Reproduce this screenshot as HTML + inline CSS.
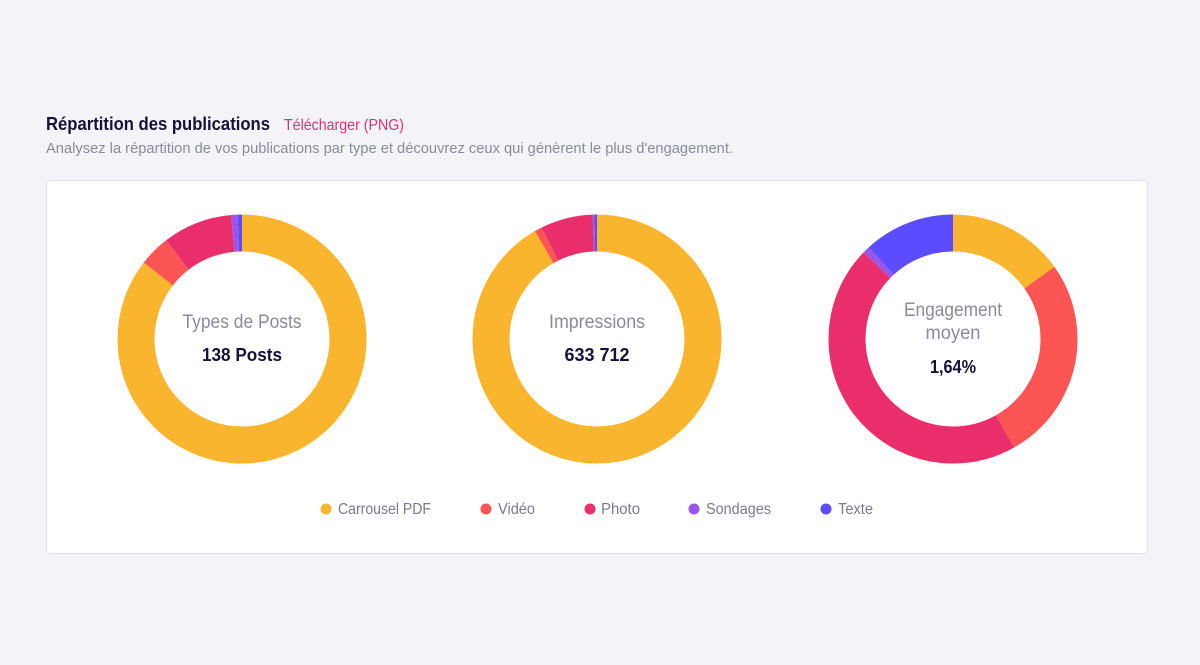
<!DOCTYPE html>
<html><head><meta charset="utf-8"><style>
html,body{margin:0;padding:0;background:#f4f4f8;}
svg{display:block;font-family:"Liberation Sans",sans-serif;}
</style></head><body>
<svg width="1200" height="665" viewBox="0 0 1200 665" xmlns="http://www.w3.org/2000/svg">
<rect width="1200" height="665" fill="#f4f4f8"/>
<text x="46" y="130" font-size="18" font-weight="bold" fill="#14123a" textLength="224" lengthAdjust="spacingAndGlyphs">Répartition des publications</text>
<text x="284" y="130" font-size="16" fill="#e0306e" textLength="120" lengthAdjust="spacingAndGlyphs">Télécharger (PNG)</text>
<text x="46" y="153" font-size="15" fill="#8a8a9c" textLength="687" lengthAdjust="spacingAndGlyphs">Analysez la répartition de vos publications par type et découvrez ceux qui génèrent le plus d'engagement.</text>
<rect x="46.5" y="180.5" width="1101" height="373" rx="4" fill="#fff" stroke="#e2e2ea"/>
<g fill="none" stroke-width="37">
 <!-- chart 1 -->
 <g transform="translate(242,339) rotate(-90)">
  <circle r="106" stroke="#fab52f" stroke-dasharray="569.3 1000" stroke-dashoffset="0"/>
  <circle r="106" stroke="#fc5553" stroke-dasharray="27.0 1000" stroke-dashoffset="-569.3"/>
  <circle r="106" stroke="#e92e6b" stroke-dasharray="60.2 1000" stroke-dashoffset="-596.3"/>
  <circle r="106" stroke="#9a56e8" stroke-dasharray="5.5 1000" stroke-dashoffset="-656.5"/>
  <circle r="106" stroke="#5b4cff" stroke-dasharray="4.5 1000" stroke-dashoffset="-662"/>
 </g>
 <!-- chart 2 -->
 <g transform="translate(597,339) rotate(-90)">
  <circle r="106" stroke="#fab52f" stroke-dasharray="610.5 1000" stroke-dashoffset="0"/>
  <circle r="106" stroke="#fc5553" stroke-dasharray="6.5 1000" stroke-dashoffset="-610.5"/>
  <circle r="106" stroke="#e92e6b" stroke-dasharray="45 1000" stroke-dashoffset="-617"/>
  <circle r="106" stroke="#9a56e8" stroke-dasharray="1.5 1000" stroke-dashoffset="-662"/>
  <circle r="106" stroke="#5b4cff" stroke-dasharray="2.5 1000" stroke-dashoffset="-663.5"/>
 </g>
 <!-- chart 3 -->
 <g transform="translate(953,339) rotate(-90)">
  <circle r="106" stroke="#fab52f" stroke-dasharray="101 1000" stroke-dashoffset="0"/>
  <circle r="106" stroke="#fc5553" stroke-dasharray="177.5 1000" stroke-dashoffset="-101"/>
  <circle r="106" stroke="#e92e6b" stroke-dasharray="302.5 1000" stroke-dashoffset="-278.5"/>
  <circle r="106" stroke="#9a56e8" stroke-dasharray="6 1000" stroke-dashoffset="-581"/>
  <circle r="106" stroke="#5b4cff" stroke-dasharray="79 1000" stroke-dashoffset="-587"/>
 </g>
</g>
<g fill="#8a8a9c" font-size="19" text-anchor="middle">
 <text x="242" y="328" textLength="119" lengthAdjust="spacingAndGlyphs">Types de Posts</text>
 <text x="597" y="328" textLength="96" lengthAdjust="spacingAndGlyphs">Impressions</text>
 <text x="953" y="316" textLength="98" lengthAdjust="spacingAndGlyphs">Engagement</text>
 <text x="953" y="339" textLength="55" lengthAdjust="spacingAndGlyphs">moyen</text>
</g>
<g fill="#14123a" font-size="18" font-weight="bold" text-anchor="middle">
 <text x="242" y="361" textLength="80" lengthAdjust="spacingAndGlyphs">138 Posts</text>
 <text x="597" y="361" textLength="65" lengthAdjust="spacingAndGlyphs">633 712</text>
 <text x="953" y="373" textLength="46" lengthAdjust="spacingAndGlyphs">1,64%</text>
</g>
<g font-size="16" fill="#7a7a8c">
 <circle cx="326" cy="509" r="5.5" fill="#fab52f"/><text x="338" y="514" textLength="93" lengthAdjust="spacingAndGlyphs">Carrousel PDF</text>
 <circle cx="486" cy="509" r="5.5" fill="#fc5553"/><text x="498" y="514" textLength="37" lengthAdjust="spacingAndGlyphs">Vidéo</text>
 <circle cx="590" cy="509" r="5.5" fill="#e92e6b"/><text x="601" y="514" textLength="39" lengthAdjust="spacingAndGlyphs">Photo</text>
 <circle cx="694" cy="509" r="5.5" fill="#9a56e8"/><text x="706" y="514" textLength="65" lengthAdjust="spacingAndGlyphs">Sondages</text>
 <circle cx="826" cy="509" r="5.5" fill="#5b4cff"/><text x="838" y="514" textLength="35" lengthAdjust="spacingAndGlyphs">Texte</text>
</g>
</svg>
</body></html>
